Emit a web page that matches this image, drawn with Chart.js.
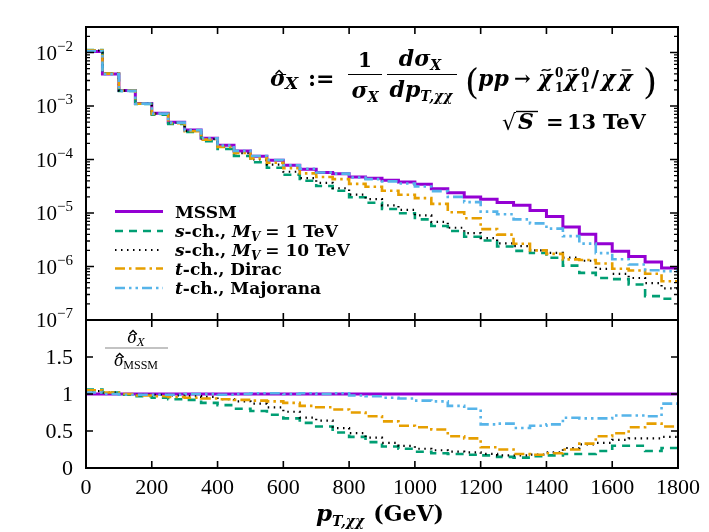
<!DOCTYPE html>
<html lang="en">
<head>
<meta charset="UTF-8">
<title>pT distribution</title>
<style>
  body { margin: 0; background: #fff; }
  #wrap { position: relative; width: 709px; height: 532px; }
  #wrap canvas { position: absolute; left: 0; top: 0; }
</style>
</head>
<body>
<div id="wrap">
  <canvas id="topChart" width="709" height="532"></canvas>
  <canvas id="ratioChart" width="709" height="532"></canvas>
</div>
<script src="https://cdn.jsdelivr.net/npm/chart.js"></script>
<script>
// bin edges in GeV (50 GeV bins)
const binEdges = [0, 50, 100, 150, 200, 250, 300, 350, 400, 450, 500, 550, 600, 650, 700, 750, 800, 850, 900,
  950, 1000, 1050, 1100, 1150, 1200, 1250, 1300, 1350, 1400, 1450, 1500, 1550, 1600, 1650, 1700, 1750, 1800];

// normalised distributions (top panel)
const mssm = [1.05e-2, 3.95e-3, 1.94e-3, 1.12e-3, 7.3e-4, 4.95e-4, 3.55e-4, 2.5e-4, 1.85e-4, 1.45e-4, 1.15e-4, 9.7e-5,
  7.8e-5, 6.6e-5, 5.7e-5, 5.4e-5, 4.7e-5, 4.45e-5, 4.1e-5, 3.8e-5, 3.45e-5, 2.85e-5, 2.4e-5, 2.0e-5,
  1.8e-5, 1.58e-5, 1.4e-5, 1.12e-5, 8.6e-6, 5.45e-6, 4.0e-6, 2.66e-6, 1.93e-6, 1.53e-6, 1.22e-6, 9.4e-7];
const sch1 = [1.11e-2, 4.03e-3, 1.92e-3, 1.09e-3, 6.9e-4, 4.6e-4, 3.27e-4, 2.2e-4, 1.57e-4, 1.16e-4, 8.9e-5, 7.0e-5,
  5.2e-5, 4.0e-5, 3.2e-5, 2.6e-5, 1.97e-5, 1.56e-5, 1.19e-5, 9.9e-6, 7.6e-6, 5.7e-6, 4.6e-6, 3.6e-6,
  3.06e-6, 2.37e-6, 1.96e-6, 1.79e-6, 1.46e-6, 1.04e-6, 7.6e-7, 6.1e-7, 5.8e-7, 4.6e-7, 2.8e-7, 2.5e-7];
const sch10 = [1.09e-2, 4.03e-3, 1.94e-3, 1.11e-3, 7.2e-4, 4.85e-4, 3.44e-4, 2.4e-4, 1.72e-4, 1.31e-4, 1.0e-4, 8.0e-5,
  5.9e-5, 4.5e-5, 3.65e-5, 2.9e-5, 2.2e-5, 1.82e-5, 1.39e-5, 1.14e-5, 9.0e-6, 6.8e-6, 5.3e-6, 4.2e-6,
  3.4e-6, 2.7e-6, 2.4e-6, 2.0e-6, 1.8e-6, 1.47e-6, 1.28e-6, 9.0e-7, 7.3e-7, 6.1e-7, 4.9e-7, 3.9e-7];
const tDirac = [1.1e-2, 4.03e-3, 1.94e-3, 1.10e-3, 7.1e-4, 4.75e-4, 3.37e-4, 2.35e-4, 1.72e-4, 1.33e-4, 1.05e-4, 8.7e-5,
  6.9e-5, 5.5e-5, 4.7e-5, 4.3e-5, 3.5e-5, 3.1e-5, 2.6e-5, 2.2e-5, 1.9e-5, 1.48e-5, 1.03e-5, 8.0e-6,
  5.0e-6, 3.95e-6, 2.66e-6, 2.0e-6, 1.72e-6, 1.36e-6, 1.32e-6, 1.14e-6, 9.1e-7, 8.4e-7, 7.3e-7, 5.3e-7];
const tMajorana = [1.07e-2, 3.95e-3, 1.92e-3, 1.11e-3, 7.2e-4, 4.9e-4, 3.55e-4, 2.5e-4, 1.83e-4, 1.45e-4, 1.16e-4, 9.8e-5,
  7.8e-5, 6.7e-5, 5.7e-5, 5.45e-5, 4.6e-5, 4.3e-5, 3.9e-5, 3.57e-5, 3.14e-5, 2.56e-5, 2.0e-5, 1.6e-5,
  1.06e-5, 9.5e-6, 7.6e-6, 6.4e-6, 5.1e-6, 3.7e-6, 2.68e-6, 1.78e-6, 1.37e-6, 1.09e-6, 8.5e-7, 8.2e-7];

// ratios to MSSM (bottom panel)
const rMssm = [1, 1, 1, 1, 1, 1, 1, 1, 1, 1, 1, 1, 1, 1, 1, 1, 1, 1, 1, 1, 1, 1, 1, 1, 1, 1, 1, 1, 1, 1, 1, 1, 1, 1, 1, 1];
const rSch1 = [1.06, 1.02, 0.99, 0.97, 0.95, 0.93, 0.92, 0.88, 0.85, 0.80, 0.77, 0.72, 0.67, 0.61, 0.56, 0.48, 0.42, 0.35,
  0.29, 0.26, 0.22, 0.20, 0.19, 0.18, 0.17, 0.15, 0.14, 0.16, 0.17, 0.19, 0.19, 0.23, 0.30, 0.30, 0.23, 0.27];
const rSch10 = [1.04, 1.02, 1.0, 0.99, 0.99, 0.98, 0.97, 0.96, 0.93, 0.90, 0.87, 0.82, 0.76, 0.68, 0.64, 0.54, 0.47, 0.41,
  0.34, 0.30, 0.26, 0.24, 0.22, 0.21, 0.19, 0.17, 0.17, 0.18, 0.21, 0.27, 0.32, 0.34, 0.38, 0.40, 0.40, 0.42];
const rDirac = [1.05, 1.02, 1.0, 0.98, 0.97, 0.96, 0.95, 0.94, 0.93, 0.92, 0.91, 0.90, 0.88, 0.84, 0.82, 0.79, 0.75, 0.70,
  0.63, 0.57, 0.55, 0.52, 0.43, 0.40, 0.28, 0.25, 0.19, 0.18, 0.20, 0.25, 0.33, 0.43, 0.47, 0.55, 0.60, 0.56];
const rMajorana = [1.02, 1.0, 0.99, 0.99, 0.99, 0.99, 1.0, 1.0, 0.99, 1.0, 1.01, 1.01, 1.0, 1.01, 1.0, 1.01, 0.98, 0.97,
  0.95, 0.94, 0.91, 0.90, 0.84, 0.80, 0.59, 0.60, 0.54, 0.57, 0.59, 0.68, 0.67, 0.67, 0.71, 0.71, 0.70, 0.87];

// tick labels
const xTicks = [0, 200, 400, 600, 800, 1000, 1200, 1400, 1600, 1800];
const topDecades = [-2, -3, -4, -5, -6, -7];
const ratioTicks = [0, 0.5, 1, 1.5];

const SERIF = '"Liberation Serif", serif';     // tick numbers
const MATH = '"DejaVu Serif", serif';          // bold labels / formula

// series styles: colour, dash, width
const styles = [
  { color: '#9400d3', dash: [], width: 3 },
  { color: '#009e73', dash: [8, 6], width: 2.6 },
  { color: '#000000', dash: [1.5, 4.5], width: 2.2 },
  { color: '#e69f00', dash: [10, 4, 2.5, 4], width: 2.6 },
  { color: '#56b4e9', dash: [10, 4, 2.5, 4, 2.5, 4], width: 2.6 }
];

function stepPoints(vals) {
  return binEdges.map((x, i) => ({ x: x, y: vals[Math.min(i, vals.length - 1)] }));
}

function makeDatasets(series) {
  return series.map((vals, i) => ({
    data: stepPoints(vals),
    borderColor: styles[i].color,
    borderDash: styles[i].dash,
    borderWidth: styles[i].width,
    stepped: 'before',   // horizontal across the bin, then vertical at the next edge
    pointRadius: 0,
    fill: false,
    order: 5 - i
  }));
}

// ---- text helpers ----
function accent(ctx, p, x, y) {
  const tw = ctx.measureText(p.t).width;
  const cx = x + tw / 2 + (p.acc || 1);
  const top = y - p.h;
  ctx.beginPath();
  ctx.lineWidth = 1.4;
  if (p.hat) { ctx.moveTo(cx - 3.5, top + 3); ctx.lineTo(cx, top - 0.5); ctx.lineTo(cx + 3.5, top + 3); }
  if (p.tilde) {
    ctx.moveTo(cx - 4.5, top + 2);
    ctx.bezierCurveTo(cx - 2, top - 2, cx, top + 4, cx + 4.5, top);
  }
  if (p.bar) { ctx.moveTo(cx - 4.5, top + 1); ctx.lineTo(cx + 4.5, top + 1); }
  ctx.stroke();
}

function rich(ctx, x, y, parts, align) {
  let w = 0;
  parts.forEach(p => { ctx.font = p.f; p.w = ctx.measureText(p.t).width + (p.gap || 0); w += p.w; });
  if (align === 'center') x -= w / 2;
  if (align === 'right') x -= w;
  ctx.textBaseline = 'alphabetic';
  ctx.textAlign = 'left';
  parts.forEach(p => {
    ctx.font = p.f;
    ctx.fillText(p.t, x, y + (p.dy || 0));
    if (p.hat || p.tilde || p.bar) accent(ctx, p, x, y + (p.dy || 0));
    x += p.w;
  });
  return w;
}

// glyph at a fixed x (left aligned)
function at(ctx, p, x, y) {
  ctx.font = p.f;
  ctx.textAlign = 'left';
  ctx.textBaseline = 'alphabetic';
  ctx.fillText(p.t, x, y);
  if (p.hat || p.tilde || p.bar) accent(ctx, p, x, y);
}

function hline(ctx, x1, x2, y, lw) {
  ctx.beginPath(); ctx.lineWidth = lw || 1; ctx.moveTo(x1, y); ctx.lineTo(x2, y); ctx.stroke();
}

function frameAndXTicks(ctx, chart) {
  const a = chart.chartArea, xs = chart.scales.x;
  ctx.strokeStyle = '#000';
  ctx.lineWidth = 2;
  ctx.strokeRect(a.left, a.top, a.right - a.left, a.bottom - a.top);
  ctx.lineWidth = 1.6;
  xTicks.forEach(v => {
    const px = xs.getPixelForValue(v);
    ctx.beginPath();
    ctx.moveTo(px, a.top); ctx.lineTo(px, a.top + 7);
    ctx.moveTo(px, a.bottom); ctx.lineTo(px, a.bottom - 7);
    ctx.stroke();
  });
}

const topDecor = {
  id: 'topDecor',
  afterDraw(chart) {
    const ctx = chart.ctx, a = chart.chartArea, ys = chart.scales.y;
    ctx.save();
    ctx.fillStyle = '#000';
    frameAndXTicks(ctx, chart);
    // log ticks, both sides, inward
    ctx.lineWidth = 1.3;
    for (let e = -7; e <= -2; e++) {
      for (let k = 1; k <= 9; k++) {
        const v = k * Math.pow(10, e);
        if (v > ys.max * 1.0001) continue;
        const py = ys.getPixelForValue(v);
        const len = k === 1 ? 8 : 4;
        ctx.beginPath();
        ctx.moveTo(a.left, py); ctx.lineTo(a.left + len, py);
        ctx.moveTo(a.right, py); ctx.lineTo(a.right - len, py);
        ctx.stroke();
      }
    }
    // decade labels
    topDecades.forEach(e => {
      const py = ys.getPixelForValue(Math.pow(10, e));
      rich(ctx, 73, py + 7, [
        { t: '10', f: '21px ' + SERIF },
        { t: '\u2212' + Math.abs(e), f: '15px ' + SERIF, dy: -9 }
      ], 'right');
    });

    // formula  sigma_X := 1/sigma_X dsigma_X/dp_T,xx (pp -> ...)
    const B = 'bold italic 22px ' + MATH, Bs = 'bold italic 14px ' + MATH;
    at(ctx, { t: '\u03c3', f: B, hat: true, h: 15 }, 270, 86);
    at(ctx, { t: 'X', f: 'bold italic 17px ' + MATH }, 285, 89);
    at(ctx, { t: ':=', f: 'bold 22px ' + MATH }, 308, 86);
    // 1 / sigma_X
    rich(ctx, 365, 67, [{ t: '1', f: 'bold 20px ' + MATH }], 'center');
    hline(ctx, 348, 382, 74.5, 1.2);
    rich(ctx, 365, 98, [{ t: '\u03c3', f: B }, { t: 'X', f: Bs, dy: 4 }], 'center');
    // d sigma_X / d p_T,xx
    rich(ctx, 420, 66, [{ t: 'd\u03c3', f: B }, { t: 'X', f: Bs, dy: 4 }], 'center');
    hline(ctx, 387, 457, 74.5, 1.2);
    rich(ctx, 421, 97, [{ t: 'dp', f: B }, { t: 'T,\u03c7\u03c7', f: Bs, dy: 4 }], 'center');
    // (pp -> chi chi / chi chibar)
    const P = '36px ' + MATH;
    at(ctx, { t: '(', f: P }, 465, 94);
    at(ctx, { t: ')', f: P }, 643, 94);
    const Bx = 'bold italic 22px ' + MATH, Bsup = 'bold 12px ' + MATH;
    at(ctx, { t: 'pp', f: Bx }, 478, 86);
    at(ctx, { t: '\u2192', f: 'bold 20px ' + MATH }, 514, 85);
    at(ctx, { t: '\u03c7', f: Bx, tilde: true, h: 17 }, 538, 86);
    at(ctx, { t: '0', f: Bsup }, 555, 77);
    at(ctx, { t: '1', f: Bsup }, 555, 92);
    at(ctx, { t: '\u03c7', f: Bx, tilde: true, h: 17 }, 564, 86);
    at(ctx, { t: '0', f: Bsup }, 581, 77);
    at(ctx, { t: '1', f: Bsup }, 581, 92);
    at(ctx, { t: '/', f: 'bold 22px ' + MATH }, 591, 86);
    at(ctx, { t: '\u03c7', f: Bx }, 601, 86);
    at(ctx, { t: '\u03c7', f: Bx, bar: true, h: 17 }, 618, 86);
    // sqrt S = 13 TeV
    at(ctx, { t: '\u221a', f: '22px ' + MATH }, 502, 130);
    at(ctx, { t: 'S', f: B }, 518, 129);
    hline(ctx, 516, 538, 111.5, 1.4);
    at(ctx, { t: '=', f: 'bold 21px ' + MATH }, 546, 129);
    at(ctx, { t: '13', f: 'bold 21px ' + MATH }, 567, 129);
    at(ctx, { t: 'TeV', f: 'bold 21px ' + MATH }, 603, 129);

    // legend
    const L = 'bold 17px ' + MATH, Li = 'bold italic 17px ' + MATH, Lsub = 'bold italic 12px ' + MATH;
    const rows = [
      [{ t: 'MSSM', f: L }],
      [{ t: 's', f: Li }, { t: '-ch., ', f: L }, { t: 'M', f: Li }, { t: 'V', f: Lsub, dy: 4, gap: 5 },
        { t: '= 1 TeV', f: L }],
      [{ t: 's', f: Li }, { t: '-ch., ', f: L }, { t: 'M', f: Li }, { t: 'V', f: Lsub, dy: 4, gap: 5 },
        { t: '= 10 TeV', f: L }],
      [{ t: 't', f: Li }, { t: '-ch., Dirac', f: L }],
      [{ t: 't', f: Li }, { t: '-ch., Majorana', f: L }]
    ];
    const rowY = [211.5, 231, 250, 268.5, 288];
    rows.forEach((parts, i) => {
      const s = styles[i];
      ctx.save();
      ctx.strokeStyle = s.color;
      ctx.lineWidth = s.width;
      ctx.setLineDash(s.dash);
      ctx.beginPath(); ctx.moveTo(115, rowY[i]); ctx.lineTo(163, rowY[i]); ctx.stroke();
      ctx.restore();
      rich(ctx, 175, rowY[i] + 6, parts, 'left');
    });
    ctx.restore();
  }
};

const ratioDecor = {
  id: 'ratioDecor',
  afterDraw(chart) {
    const ctx = chart.ctx, a = chart.chartArea, ys = chart.scales.y, xs = chart.scales.x;
    ctx.save();
    ctx.fillStyle = '#000';
    frameAndXTicks(ctx, chart);
    ctx.lineWidth = 1.6;
    ratioTicks.forEach(v => {
      const py = ys.getPixelForValue(v);
      ctx.beginPath();
      ctx.moveTo(a.left, py); ctx.lineTo(a.left + 7, py);
      ctx.moveTo(a.right, py); ctx.lineTo(a.right - 7, py);
      ctx.stroke();
      ctx.font = '22px ' + SERIF;
      ctx.textAlign = 'right';
      ctx.textBaseline = 'middle';
      ctx.fillText(String(v), 73, py + 1);
    });
    ctx.textAlign = 'center';
    ctx.textBaseline = 'top';
    ctx.font = '22px ' + SERIF;
    xTicks.forEach(v => ctx.fillText(String(v), xs.getPixelForValue(v), a.bottom + 9));

    // ratio label
    rich(ctx, 136, 343, [{ t: '\u03c3', f: 'italic 19px ' + SERIF, hat: true, h: 12 },
      { t: 'X', f: 'italic 13px ' + SERIF, dy: 3 }], 'center');
    ctx.strokeStyle = '#888';
    hline(ctx, 105, 168, 348, 1.2);
    ctx.strokeStyle = '#000';
    rich(ctx, 136, 366, [{ t: '\u03c3', f: 'italic 19px ' + SERIF, hat: true, h: 12 },
      { t: 'MSSM', f: '12px ' + SERIF, dy: 3 }], 'center');

    // x axis title
    rich(ctx, 380, 521, [
      { t: 'p', f: 'bold italic 23px ' + MATH },
      { t: 'T,\u03c7\u03c7', f: 'bold italic 14px ' + MATH, dy: 5, gap: 9 },
      { t: '(GeV)', f: 'bold 22px ' + MATH }
    ], 'center');
    ctx.restore();
  }
};

const baseOptions = (padding, yScale) => ({
  responsive: false,
  animation: false,
  devicePixelRatio: 1,
  layout: { padding: padding },
  plugins: { legend: { display: false }, tooltip: { enabled: false } },
  elements: { point: { radius: 0 }, line: { tension: 0 } },
  scales: {
    x: { type: 'linear', min: 0, max: 1800, display: false },
    y: yScale
  }
});

new Chart(document.getElementById('topChart'), {
  type: 'line',
  data: { datasets: makeDatasets([mssm, sch1, sch10, tDirac, tMajorana]) },
  options: baseOptions({ left: 86, right: 31, top: 27, bottom: 212 },
    { type: 'logarithmic', min: 1e-7, max: 0.03, display: false }),
  plugins: [topDecor]
});

new Chart(document.getElementById('ratioChart'), {
  type: 'line',
  data: { datasets: makeDatasets([rMssm, rSch1, rSch10, rDirac, rMajorana]) },
  options: baseOptions({ left: 86, right: 31, top: 320, bottom: 64 },
    { type: 'linear', min: 0, max: 2, display: false }),
  plugins: [ratioDecor]
});
</script>
</body>
</html>
